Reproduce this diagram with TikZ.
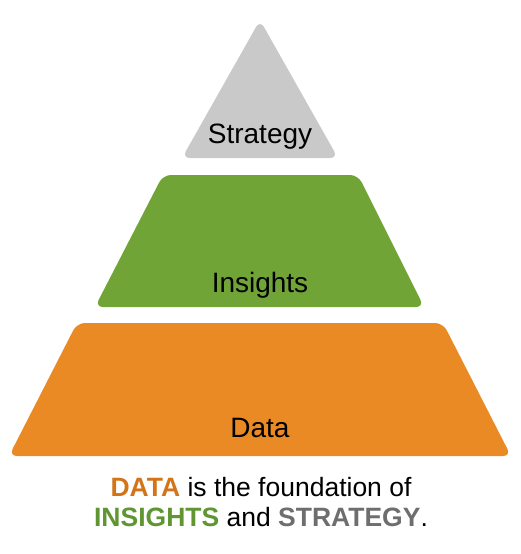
\documentclass[tikz,border=0pt]{standalone}
\usepackage{fontspec}
\setmainfont{Liberation Sans}
\definecolor{tgrey}{HTML}{C9C9C9}
\definecolor{tgreen}{HTML}{70A436}
\definecolor{torange}{HTML}{E98A24}
\definecolor{kdata}{HTML}{D47419}
\definecolor{kins}{HTML}{5F9631}
\definecolor{kstr}{HTML}{6E6E6E}
\begin{document}
\begin{tikzpicture}[x=1pt,y=-1pt,
  tier/.style={rounded corners=8pt},
  lbl/.style={anchor=base,inner sep=0pt,font=\fontsize{28}{32}\selectfont},
  caption/.style={anchor=base,inner sep=0pt,font=\fontsize{26.5}{30}\selectfont}]
\useasboundingbox (0,0) rectangle (521,554);
\fill[white] (0,0) rectangle (521,554);
% tiers
\fill[tgrey,tier] (182,158) -- (260,20) -- (338,158) -- cycle;
\fill[tgreen,tier] (95,307) -- (163,175) -- (358,175) -- (424,307) -- cycle;
\fill[torange,tier] (9,456) -- (77,323) -- (443,323) -- (511,456) -- cycle;
% labels
\node[lbl] (strategy) at (260,143) {Strategy};
\node[lbl] (insights) at (260,292) {Insights};
\node[lbl] (data) at (260,437) {Data};
% caption
\node[caption] (cap1) at (261,496) {\textbf{\color{kdata}DATA} is the foundation of};
\node[caption] (cap2) at (261,526) {\textbf{\color{kins}INSIGHTS} and \textbf{\color{kstr}STRATEGY}.};
\end{tikzpicture}
\end{document}
